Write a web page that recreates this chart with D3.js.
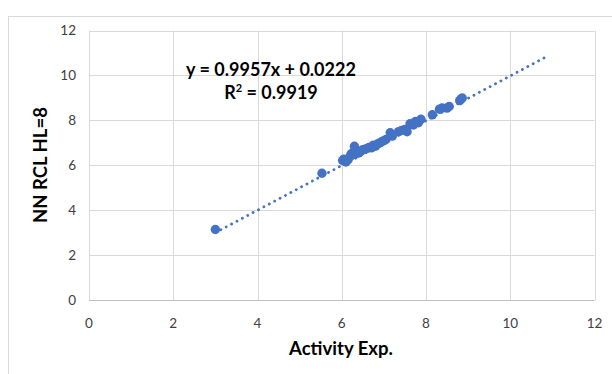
<!DOCTYPE html>
<html><head><meta charset="utf-8">
<script src="https://cdn.jsdelivr.net/npm/d3@7"></script>
<style>body{margin:0;background:#fff}svg{display:block}</style>
</head><body>
<svg id="c" width="612" height="374"></svg>
<script>
const xTicks = [0, 2, 4, 6, 8, 10, 12];
const yTicks = [0, 2, 4, 6, 8, 10, 12];
const xVals = [3.0, 5.53, 6.02, 6.05, 6.1, 6.15, 6.2, 6.22, 6.25, 6.3, 6.32, 6.35, 6.4, 6.45, 6.5, 6.55, 6.6, 6.65, 6.7, 6.75, 6.8, 6.85, 6.9, 6.95, 7.0, 7.05, 7.15, 7.2, 7.35, 7.42, 7.5, 7.55, 7.62, 7.7, 7.75, 7.82, 7.88, 8.15, 8.32, 8.38, 8.5, 8.55, 8.8, 8.83, 8.86];
const yVals = [3.15, 5.65, 6.22, 6.28, 6.15, 6.25, 6.4, 6.5, 6.55, 6.85, 6.5, 6.6, 6.55, 6.62, 6.7, 6.72, 6.75, 6.8, 6.78, 6.9, 6.85, 6.95, 7.0, 7.05, 7.1, 7.15, 7.45, 7.3, 7.5, 7.55, 7.6, 7.5, 7.85, 7.8, 7.95, 7.9, 8.05, 8.25, 8.5, 8.55, 8.55, 8.62, 8.88, 8.95, 9.0];
const slope = 0.9957, intercept = 0.0222;
const trendRange = [3.0, 10.82];
const eqText = "y = 0.9957x + 0.0222";
const xTitle = "Activity Exp.";
const yTitle = "NN RCL HL=8";

const svg = d3.select("#c");
const font = "Lato, 'Open Sans', sans-serif";
const x = d3.scaleLinear().domain([0, 12]).range([89, 594.5]);
const y = d3.scaleLinear().domain([0, 12]).range([300.3, 30.5]);

// outer chart border
svg.append("rect").attr("x", 8.5).attr("y", 16.5).attr("width", 700).attr("height", 500)
  .attr("fill", "none").attr("stroke", "#d9d9d9").attr("stroke-width", 1);

// grid
svg.append("g").selectAll("line").data(yTicks).join("line")
  .attr("x1", x(0)).attr("x2", x(12))
  .attr("y1", d => Math.round(y(d)) + 0.5).attr("y2", d => Math.round(y(d)) + 0.5)
  .attr("stroke", d => d === 0 ? "#bfbfbf" : "#d9d9d9").attr("stroke-width", 1);
svg.append("g").selectAll("line").data(xTicks).join("line")
  .attr("x1", d => Math.round(x(d)) + 0.5).attr("x2", d => Math.round(x(d)) + 0.5)
  .attr("y1", y(0)).attr("y2", y(12))
  .attr("stroke", "#d9d9d9").attr("stroke-width", 1);

// tick labels
svg.append("g").selectAll("text").data(xTicks).join("text")
  .attr("x", d => x(d)).attr("y", 328).attr("text-anchor", "middle")
  .attr("font-family", font).attr("font-size", 13.5).attr("fill", "#404040").text(d => d);
svg.append("g").selectAll("text").data(yTicks).join("text")
  .attr("x", 76).attr("y", d => y(d) + 4.5).attr("text-anchor", "end")
  .attr("font-family", font).attr("font-size", 13.5).attr("fill", "#404040").text(d => d);

// points
const pts = xVals.map((v, i) => [v, yVals[i]]);
svg.append("g").selectAll("circle").data(pts).join("circle")
  .attr("cx", d => x(d[0])).attr("cy", d => y(d[1])).attr("r", 4.7)
  .attr("fill", "#4472c4");

// trendline
svg.append("line")
  .attr("x1", x(trendRange[0])).attr("y1", y(slope * trendRange[0] + intercept))
  .attr("x2", x(trendRange[1])).attr("y2", y(slope * trendRange[1] + intercept))
  .attr("stroke", "#4472c4").attr("stroke-width", 2.8)
  .attr("stroke-linecap", "round").attr("stroke-dasharray", "0.1 6");

// equation
svg.append("text").attr("x", 271).attr("y", 76).attr("text-anchor", "middle")
  .attr("font-family", font).attr("font-weight", "bold").attr("font-size", 18)
  .attr("fill", "#000").text(eqText);
const r2 = svg.append("text").attr("x", 271).attr("y", 99).attr("text-anchor", "middle")
  .attr("font-family", font).attr("font-weight", "bold").attr("font-size", 18).attr("fill", "#000");
r2.append("tspan").text("R");
r2.append("tspan").attr("font-size", 11).attr("dy", -7).text("2");
r2.append("tspan").attr("dy", 7).text(" = 0.9919");

// axis titles
svg.append("text").attr("x", 341).attr("y", 355).attr("text-anchor", "middle")
  .attr("font-family", font).attr("font-weight", "bold").attr("font-size", 18.5)
  .attr("fill", "#000").text(xTitle);
svg.append("text").attr("transform", "translate(47,165) rotate(-90)").attr("text-anchor", "middle")
  .attr("font-family", font).attr("font-weight", "bold").attr("font-size", 18.5)
  .attr("fill", "#000").text(yTitle);
</script>
</body></html>
